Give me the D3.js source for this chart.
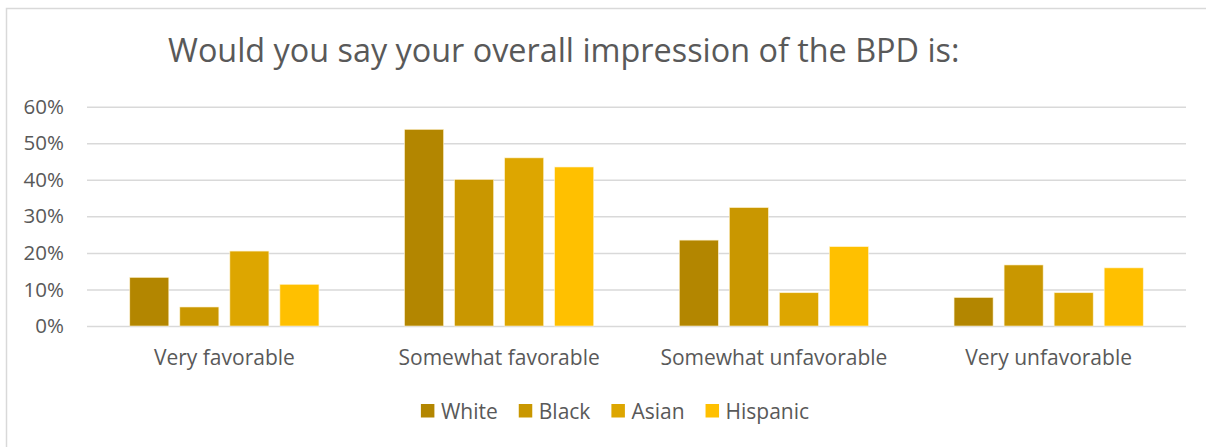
<!DOCTYPE html>
<html>
<head>
<meta charset="utf-8">
<script src="https://cdn.jsdelivr.net/npm/d3@7"></script>
<style>
  html, body { margin: 0; padding: 0; background: #fff; }
  svg { display: block; font-family: "Open Sans", "Noto Sans", sans-serif; }
</style>
</head>
<body>
<svg id="chart" width="1206" height="447"></svg>
<script>
const title = "Would you say your overall impression of the BPD is:";
const categories = ["Very favorable", "Somewhat favorable", "Somewhat unfavorable", "Very unfavorable"];
const seriesNames = ["White", "Black", "Asian", "Hispanic"];
const white    = [0.133, 0.538, 0.235, 0.078];
const black    = [0.052, 0.401, 0.324, 0.167];
const asian    = [0.205, 0.460, 0.091, 0.091];
const hispanic = [0.114, 0.435, 0.217, 0.159];
const colors = ["#B38600", "#C99700", "#DDA600", "#FFC000"];
const yTicks = [0, 0.1, 0.2, 0.3, 0.4, 0.5, 0.6];

const seriesValues = [white, black, asian, hispanic];
const data = categories.map((c, i) => ({
  category: c,
  values: seriesNames.map((s, j) => ({ series: s, value: seriesValues[j][i] }))
}));

const svg = d3.select("#chart");
const textColor = "#595959";
const font = "'Open Sans', sans-serif";

// chart border
svg.append("rect")
  .attr("x", 6.5).attr("y", 8.5)
  .attr("width", 1210).attr("height", 460)
  .attr("fill", "#fff").attr("stroke", "#d9d9d9").attr("stroke-width", 1.5);

const plot = { left: 87, right: 1186, top: 106.7, bottom: 326 };

const x0 = d3.scaleBand().domain(categories).range([plot.left, plot.right]).paddingInner(0.3115).paddingOuter(0.1557);
const x1 = d3.scaleBand().domain(seriesNames).range([0, x0.bandwidth()]).paddingInner(0.22).paddingOuter(0);
const y = d3.scaleLinear().domain([0, 0.6]).range([plot.bottom, plot.top]);
const color = d3.scaleOrdinal().domain(seriesNames).range(colors);

// gridlines + y labels
const yAxis = d3.axisLeft(y).tickValues(yTicks).tickFormat(d3.format(".0%"))
  .tickSize(-(plot.right - plot.left)).tickPadding(23);
const gy = svg.append("g").attr("transform", `translate(${plot.left},0)`).call(yAxis);
gy.select(".domain").remove();
gy.selectAll(".tick line").attr("stroke", "#d9d9d9").attr("stroke-width", 1.5);
gy.selectAll(".tick text").attr("fill", textColor).attr("font-size", 20.5)
  .attr("font-family", font);

// bars
const groups = svg.append("g").selectAll("g").data(data).join("g")
  .attr("transform", d => `translate(${x0(d.category)},0)`);
groups.selectAll("rect").data(d => d.values).join("rect")
  .attr("x", d => x1(d.series))
  .attr("width", x1.bandwidth())
  .attr("y", d => y(d.value))
  .attr("height", d => y(0) - y(d.value))
  .attr("fill", d => color(d.series))
  .attr("stroke", "#fff2cc").attr("stroke-width", 0.6);

// category axis labels
const xAxis = d3.axisBottom(x0).tickSize(0);
const gx = svg.append("g").attr("transform", `translate(0,${plot.bottom})`).call(xAxis);
gx.select(".domain").remove();
gx.selectAll(".tick text").attr("fill", textColor).attr("font-size", 21)
  .attr("font-family", font).attr("dy", null).attr("y", 39);

// title, fitted to the reference width
const t = svg.append("text").text(title)
  .attr("fill", textColor).attr("font-size", 28)
  .attr("font-family", font);
const w0 = t.node().getComputedTextLength();
const fs = 28 * 792 / w0;
t.attr("font-size", fs).attr("x", 168).attr("y", 62);

// legend
const legend = svg.append("g");
let lx = 0;
seriesNames.forEach((s, i) => {
  const g = legend.append("g");
  g.append("rect").attr("x", 0).attr("y", -7).attr("width", 13.5).attr("height", 13.5).attr("fill", color(s));
  const tx = g.append("text").attr("x", 20).attr("y", 7.5).text(s)
    .attr("fill", textColor).attr("font-size", 21).attr("font-family", font);
  const w = 20 + tx.node().getComputedTextLength();
  g.attr("transform", `translate(${lx},0)`);
  lx += w + 21;
});
const totalW = lx - 21;
legend.attr("transform", `translate(${615 - totalW / 2},411)`);
</script>
</body>
</html>
